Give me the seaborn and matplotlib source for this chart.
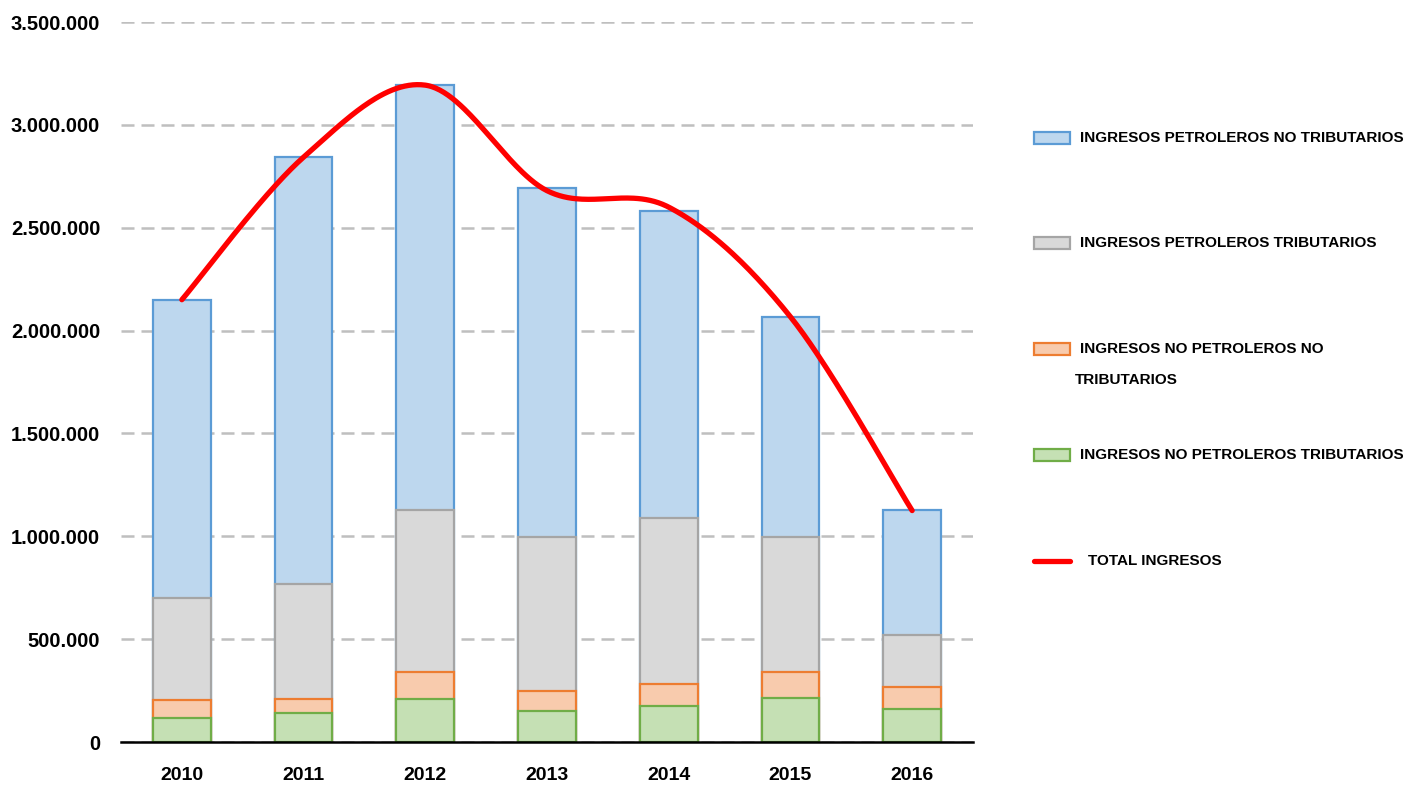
import numpy as np
import pandas as pd
import matplotlib
matplotlib.use("Agg")
import matplotlib.pyplot as plt
import seaborn as sns
from matplotlib.patches import Rectangle
from matplotlib.lines import Line2D

years = ["2010", "2011", "2012", "2013", "2014", "2015", "2016"]
no_pet_trib = [118000, 140000, 210000, 150000, 175000, 215000, 160000]
no_pet_no_trib = [87000, 68000, 130000, 97000, 107000, 125000, 107000]
pet_trib = [495000, 560000, 790000, 750000, 808000, 657000, 255000]
pet_no_trib = [1450000, 2075000, 2063000, 1695000, 1490000, 1070000, 606000]
total = [2150000, 2843000, 3193000, 2680000, 2600000, 2067000, 1125000]

labels = ["INGRESOS PETROLEROS NO TRIBUTARIOS",
          "INGRESOS PETROLEROS TRIBUTARIOS",
          "INGRESOS NO PETROLEROS NO\nTRIBUTARIOS",
          "INGRESOS NO PETROLEROS TRIBUTARIOS",
          "TOTAL INGRESOS"]
yticks = [0, 500000, 1000000, 1500000, 2000000, 2500000, 3000000, 3500000]
ytick_labels = ["0", "500.000", "1.000.000", "1.500.000", "2.000.000",
                "2.500.000", "3.000.000", "3.500.000"]

sns.set_style("white")
plt.rcParams['font.family'] = ['Liberation Sans', 'DejaVu Sans']
plt.rcParams['text.color'] = 'black'
plt.rcParams['xtick.color'] = 'black'
plt.rcParams['ytick.color'] = 'black'

fig = plt.figure(figsize=(14.07, 7.93), dpi=100)
ax = fig.add_axes([121/1407, 51/793, 852/1407, 720/793])

df = pd.DataFrame({"year": years,
                   "a": no_pet_trib, "b": no_pet_no_trib,
                   "c": pet_trib, "d": pet_no_trib})
df["cum_a"] = df["a"]
df["cum_b"] = df["cum_a"] + df["b"]
df["cum_c"] = df["cum_b"] + df["c"]
df["cum_d"] = df["cum_c"] + df["d"]

layers = [("cum_d", "#BDD7EE", "#5B9BD5"),
          ("cum_c", "#D9D9D9", "#A5A5A5"),
          ("cum_b", "#F8CBAD", "#ED7D31"),
          ("cum_a", "#C5E0B4", "#70AD47")]
for col, fc, ec in layers:
    sns.barplot(data=df, x="year", y=col, color=fc, edgecolor=ec,
                linewidth=1.6, width=0.475, saturation=1, ax=ax, zorder=3)

# smoothed total line (Excel-like Bezier smoothing)
xs = np.arange(len(total), dtype=float)
ys = np.array(total, dtype=float)
px, py = [], []
for i in range(len(xs) - 1):
    p0 = (xs[max(i-1, 0)], ys[max(i-1, 0)])
    p1 = (xs[i], ys[i])
    p2 = (xs[i+1], ys[i+1])
    p3 = (xs[min(i+2, len(xs)-1)], ys[min(i+2, len(xs)-1)])
    c1 = (p1[0] + (p2[0]-p0[0])/6, p1[1] + (p2[1]-p0[1])/6)
    c2 = (p2[0] - (p3[0]-p1[0])/6, p2[1] - (p3[1]-p1[1])/6)
    t = np.linspace(0, 1, 60)
    bx = (1-t)**3*p1[0] + 3*(1-t)**2*t*c1[0] + 3*(1-t)*t**2*c2[0] + t**3*p2[0]
    by = (1-t)**3*p1[1] + 3*(1-t)**2*t*c1[1] + 3*(1-t)*t**2*c2[1] + t**3*p2[1]
    px.extend(bx); py.extend(by)
ax.plot(px, py, color="#FF0000", lw=3.8, solid_capstyle="round", zorder=5)

ax.set_xlim(-0.5, 6.5)
ax.set_ylim(0, 3500000)
ax.set_yticks(yticks)
ax.set_yticklabels(ytick_labels, fontsize=14.5, fontweight="bold")
ax.tick_params(axis="y", length=0, pad=15)
ax.set_xticks(range(len(years)))
ax.set_xticklabels(years, fontsize=14, fontweight="bold")
ax.tick_params(axis="x", which="major", length=0, pad=18)
ax.set_xticks(np.arange(-0.5, 7, 1), minor=True)
ax.tick_params(axis="x", which="minor", direction="in", length=8, width=1.6, color="black")
ax.set_xlabel(""); ax.set_ylabel("")
ax.yaxis.grid(True, color="#BFBFBF", linestyle=(0, (5.2, 2.8)), linewidth=1.8, zorder=0)
ax.set_axisbelow(True)
for s in ["top", "right", "left"]:
    ax.spines[s].set_visible(False)
ax.spines["bottom"].set_color("black")
ax.spines["bottom"].set_linewidth(1.8)
ax.spines["bottom"].set_zorder(6)

# legend (manual)
W, H = 1407, 793
entries = [(138, "#BDD7EE", "#5B9BD5", labels[0], "patch"),
           (243, "#D9D9D9", "#A5A5A5", labels[1], "patch"),
           (349, "#F8CBAD", "#ED7D31", labels[2], "patch"),
           (455, "#C5E0B4", "#70AD47", labels[3], "patch"),
           (561, "#FF0000", "#FF0000", labels[4], "line")]
for yy, fc, ec, lab, kind in entries:
    yf = 1 - yy / H
    if kind == "patch":
        fig.patches.append(Rectangle((1034/W, yf - 6/H), 36/W, 12/H, facecolor=fc,
                                     edgecolor=ec, linewidth=1.6, transform=fig.transFigure))
        tx = 1080 / W
    else:
        fig.lines.append(Line2D([1034/W, 1070/W], [yf, yf], color=fc, lw=3.8,
                                solid_capstyle="round", transform=fig.transFigure))
        tx = 1088 / W
    first, *rest = lab.split("\n")
    fig.text(tx, yf, first, fontsize=11, fontweight="bold", va="center", ha="left")
    if rest:
        fig.text(1075 / W, yf - 31/H, rest[0], fontsize=11, fontweight="bold", va="center", ha="left")

fig.savefig("out.png", dpi=100)
